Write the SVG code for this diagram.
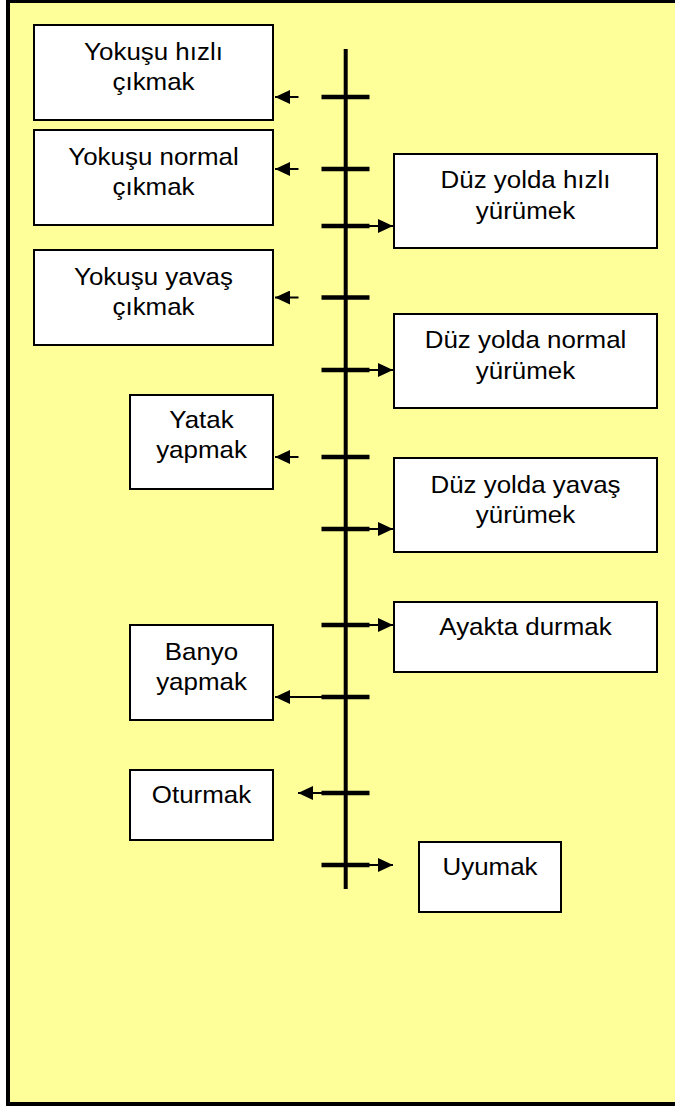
<svg xmlns="http://www.w3.org/2000/svg" width="675" height="1106" viewBox="0 0 675 1106">
<style>
.box{fill:#fff;stroke:#000;stroke-width:2}
.t{font-family:"Liberation Sans",Arial,sans-serif;font-size:24px;fill:#000;text-anchor:middle}
.tick{stroke:#000;stroke-width:4.5;fill:none}
.thin{stroke:#000;stroke-width:2;fill:none}
</style>
<defs>
<marker id="ah" markerUnits="userSpaceOnUse" markerWidth="16" markerHeight="14" refX="15" refY="7" orient="auto">
<path d="M0,0 L15,7 L0,14 Z" fill="#000"/>
</marker>
</defs>
<rect x="0" y="0" width="675" height="1106" fill="#fff"/>
<rect id="frame" x="8" y="1" width="690" height="1103" fill="#FFFF99" stroke="#000" stroke-width="4"/>

<g id="n1"><rect class="box" x="34" y="25" width="239" height="95"/>
<g transform="matrix(1.08 0 0 1 153.5 0)"><text class="t" x="0" y="60">Yokuşu hızlı</text><text class="t" x="0" y="90">çıkmak</text></g></g>
<g id="n2"><rect class="box" x="34" y="130" width="239" height="95"/>
<g transform="matrix(1.08 0 0 1 153.5 0)"><text class="t" x="0" y="165">Yokuşu normal</text><text class="t" x="0" y="195">çıkmak</text></g></g>
<g id="n3"><rect class="box" x="34" y="250" width="239" height="95"/>
<g transform="matrix(1.08 0 0 1 153.5 0)"><text class="t" x="0" y="285">Yokuşu yavaş</text><text class="t" x="0" y="315">çıkmak</text></g></g>
<g id="n4"><rect class="box" x="394" y="154" width="263" height="94"/>
<g transform="matrix(1.08 0 0 1 525.5 0)"><text class="t" x="0" y="188.5">Düz yolda hızlı</text><text class="t" x="0" y="219">yürümek</text></g></g>
<g id="n5"><rect class="box" x="394" y="314" width="263" height="94"/>
<g transform="matrix(1.08 0 0 1 525.5 0)"><text class="t" x="0" y="348.5">Düz yolda normal</text><text class="t" x="0" y="379">yürümek</text></g></g>
<g id="n6"><rect class="box" x="130" y="395" width="143" height="94"/>
<g transform="matrix(1.08 0 0 1 201.5 0)"><text class="t" x="0" y="428.5">Yatak</text><text class="t" x="0" y="458.5">yapmak</text></g></g>
<g id="n7"><rect class="box" x="394" y="458" width="263" height="94"/>
<g transform="matrix(1.08 0 0 1 525.5 0)"><text class="t" x="0" y="493.5">Düz yolda yavaş</text><text class="t" x="0" y="523">yürümek</text></g></g>
<g id="n8"><rect class="box" x="394" y="602" width="263" height="70"/>
<g transform="matrix(1.08 0 0 1 525.5 0)"><text class="t" x="0" y="635">Ayakta durmak</text></g></g>
<g id="n9"><rect class="box" x="130" y="625" width="143" height="95"/>
<g transform="matrix(1.08 0 0 1 201.5 0)"><text class="t" x="0" y="660">Banyo</text><text class="t" x="0" y="690.5">yapmak</text></g></g>
<g id="n10"><rect class="box" x="130" y="770" width="143" height="70"/>
<g transform="matrix(1.08 0 0 1 201.5 0)"><text class="t" x="0" y="803.5">Oturmak</text></g></g>
<g id="n11"><rect class="box" x="419" y="842" width="142" height="70"/>
<g transform="matrix(1.08 0 0 1 490 0)"><text class="t" x="0" y="875">Uyumak</text></g></g>

<g id="connectors">
<line x1="345.7" y1="49" x2="345.7" y2="889" stroke="#000" stroke-width="4"/>
<line class="tick" x1="321.5" y1="97" x2="369.5" y2="97"/>
<line class="tick" x1="321.5" y1="169" x2="369.5" y2="169"/>
<line class="tick" x1="321.5" y1="226" x2="369.5" y2="226"/>
<line class="tick" x1="321.5" y1="297.5" x2="369.5" y2="297.5"/>
<line class="tick" x1="321.5" y1="370" x2="369.5" y2="370"/>
<line class="tick" x1="321.5" y1="457" x2="369.5" y2="457"/>
<line class="tick" x1="321.5" y1="529" x2="369.5" y2="529"/>
<line class="tick" x1="321.5" y1="625" x2="369.5" y2="625"/>
<line class="tick" x1="321.5" y1="697" x2="369.5" y2="697"/>
<line class="tick" x1="321.5" y1="793" x2="369.5" y2="793"/>
<line class="tick" x1="321.5" y1="865" x2="369.5" y2="865"/>
<line class="thin" x1="298.5" y1="97" x2="275" y2="97" marker-end="url(#ah)"/>
<line class="thin" x1="298.5" y1="169" x2="275" y2="169" marker-end="url(#ah)"/>
<line class="thin" x1="298.5" y1="297.5" x2="275" y2="297.5" marker-end="url(#ah)"/>
<line class="thin" x1="298.5" y1="457" x2="275" y2="457" marker-end="url(#ah)"/>
<line class="thin" x1="322" y1="697" x2="275" y2="697" marker-end="url(#ah)"/>
<line class="thin" x1="322" y1="793" x2="298" y2="793" marker-end="url(#ah)"/>
<line class="thin" x1="369" y1="226" x2="393" y2="226" marker-end="url(#ah)"/>
<line class="thin" x1="369" y1="370" x2="393" y2="370" marker-end="url(#ah)"/>
<line class="thin" x1="369" y1="529" x2="393" y2="529" marker-end="url(#ah)"/>
<line class="thin" x1="369" y1="625" x2="393" y2="625" marker-end="url(#ah)"/>
<line class="thin" x1="369" y1="865" x2="393" y2="865" marker-end="url(#ah)"/>
</g>
</svg>
